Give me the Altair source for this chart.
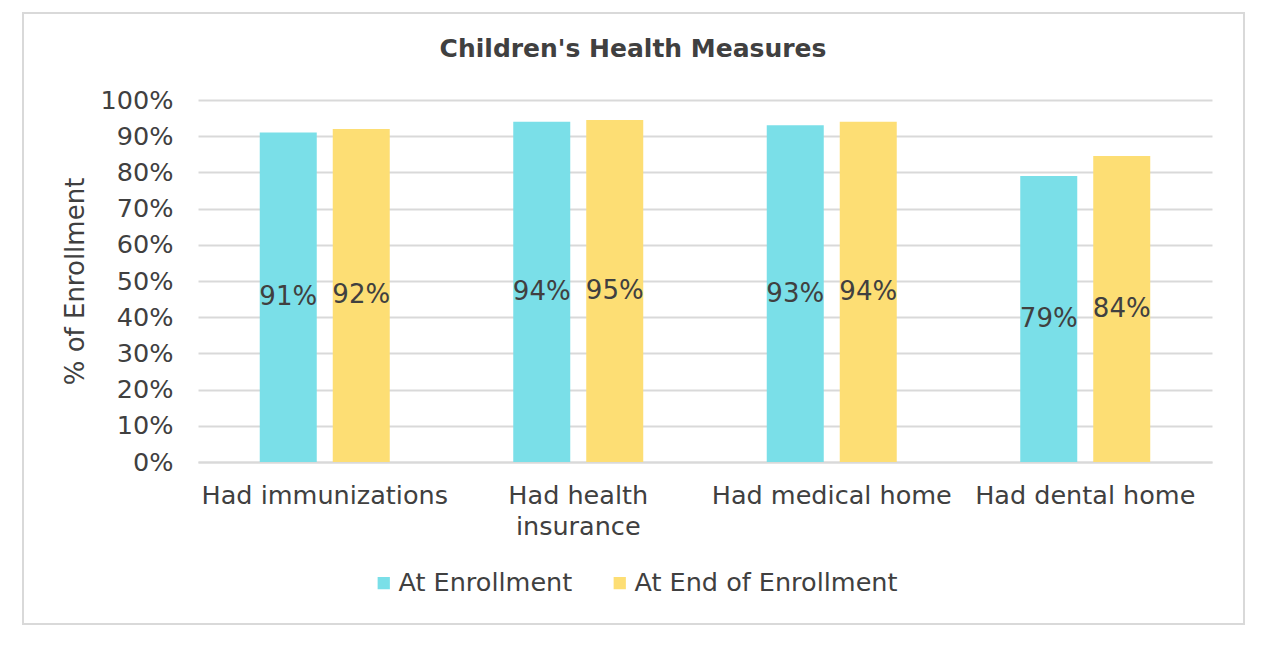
import altair as alt
import pandas as pd

categories = ["Had immunizations", "Had health\ninsurance", "Had medical home", "Had dental home"]
series = ["At Enrollment", "At End of Enrollment"]
at_enrollment = [0.91, 0.94, 0.93, 0.79]
at_end = [0.92, 0.945, 0.94, 0.845]
label_enroll = ["91%", "94%", "93%", "79%"]
label_end = ["92%", "95%", "94%", "84%"]
y_ticks = [0.0, 0.1, 0.2, 0.3, 0.4, 0.5, 0.6, 0.7, 0.8, 0.9, 1.0]
colors = ["#7ADFE8", "#FDDE74"]
title_text = "Children's Health Measures"

rows = []
for i, c in enumerate(categories):
    rows.append({"cat": c, "series": series[0], "value": at_enrollment[i], "label": label_enroll[i]})
    rows.append({"cat": c, "series": series[1], "value": at_end[i], "label": label_end[i]})
df = pd.DataFrame(rows)
df["half"] = df["value"] / 2

FONT = "DejaVu Sans"
TXT = "#404040"
FS = 25.5

x = alt.X("cat:N", sort=categories, title=None,
          scale=alt.Scale(paddingInner=0, paddingOuter=0),
          axis=alt.Axis(labelExpr="split(datum.label, '\\n')", labelAngle=0,
                        labelFont=FONT, labelFontSize=FS, labelColor=TXT,
                        labelPadding=21, labelLineHeight=31, labelLimit=400, ticks=False,
                        domainColor="#d9d9d9", domainWidth=2, grid=False))
xoff = alt.XOffset("series:N", sort=series,
                   scale=alt.Scale(paddingInner=0.219, paddingOuter=0.846))

yscale = alt.Scale(domain=[0, 1])
yaxis = alt.Axis(format=".0%", values=y_ticks,
                 labelOverlap=False,
                 labelFont=FONT, labelFontSize=FS, labelColor=TXT,
                 labelPadding=25, ticks=False, domain=False,
                 gridColor="#d9d9d9", gridWidth=2,
                 titleFont=FONT, titleFontSize=26, titleColor=TXT,
                 titleFontWeight="normal", titlePadding=12)

bars = alt.Chart(df).mark_bar().encode(
    x=x,
    xOffset=xoff,
    y=alt.Y("value:Q", title="% of Enrollment", scale=yscale, axis=yaxis),
    color=alt.Color("series:N", sort=series,
                    scale=alt.Scale(domain=series, range=colors),
                    legend=alt.Legend(title=None, orient="none", direction="horizontal",
                                      legendX=173, legendY=470,
                                      symbolType="square", symbolSize=150,
                                      symbolStrokeWidth=0,
                                      labelFont=FONT, labelFontSize=FS, labelColor=TXT,
                                      columnPadding=34, labelOffset=2, labelLimit=400)),
)

labels = alt.Chart(df).mark_text(font=FONT, fontSize=26, color=TXT).encode(
    x=x,
    xOffset=xoff,
    y=alt.Y("half:Q", title="% of Enrollment", scale=yscale, axis=yaxis),
    text="label:N",
)

border = alt.Chart(pd.DataFrame({"a": [0]})).mark_rect(
    fill=None, stroke="#d9d9d9", strokeWidth=2, clip=False
).encode(
    x=alt.value(-175), x2=alt.value(1046), y=alt.value(-87), y2=alt.value(524)
)

title = alt.Chart(pd.DataFrame({"t": [title_text]})).mark_text(
    font=FONT, fontSize=25, fontWeight="bold", color=TXT, baseline="middle", clip=False
).encode(
    x=alt.value(435), y=alt.value(-51), text="t:N"
)

chart = alt.layer(border, bars, labels, title).properties(
    width=1014, height=362,
    autosize=alt.AutoSizeParams(type="none"),
    padding={"left": 190, "top": 92, "right": 50, "bottom": 180},
).configure_view(stroke=None)

chart.save("out.html", embed_options={"renderer": "svg", "actions": False})
